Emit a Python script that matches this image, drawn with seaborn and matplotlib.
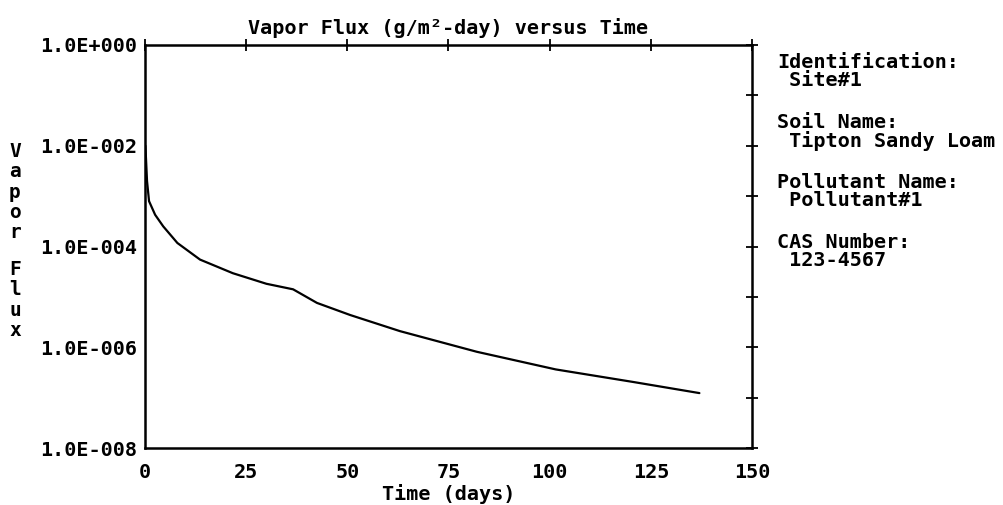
import numpy as np
import pandas as pd
import matplotlib
matplotlib.use("Agg")
import matplotlib.pyplot as plt
import seaborn as sns

# Data
time_days = [0.1, 0.5, 1.0, 2.5, 4.5, 8.0, 13.6, 21.7, 30.0, 36.6, 42.5,
             50.7, 63.0, 82.0, 101.5, 120.7, 137.0]
log_flux = [-2.0, -2.7, -3.1, -3.37, -3.6, -3.93, -4.26, -4.53, -4.74, -4.85,
            -5.12, -5.36, -5.68, -6.09, -6.44, -6.69, -6.91]

x_ticks = [0, 25, 50, 75, 100, 125, 150]
y_decades = [-8, -7, -6, -5, -4, -3, -2, -1, 0]
y_tick_labels = ["1.0E-008", "", "1.0E-006", "", "1.0E-004", "",
                 "1.0E-002", "", "1.0E+000"]

title = "Vapor Flux (g/m²-day) versus Time"
x_label = "Time (days)"
y_label_words = ["Vapor", "Flux"]

info_blocks = [
    ("Identification:", "Site#1"),
    ("Soil Name:", "Tipton Sandy Loam"),
    ("Pollutant Name:", "Pollutant#1"),
    ("CAS Number:", "123-4567"),
]

df = pd.DataFrame({"time": time_days, "flux": [10.0 ** v for v in log_flux]})

sns.set_theme(style="white")
plt.rcParams["font.family"] = ["DejaVu Sans Mono", "DejaVu Sans"]
plt.rcParams["font.weight"] = "bold"
plt.rcParams["text.color"] = "black"

W, H = 1004, 505
fig = plt.figure(figsize=(W / 100, H / 100), dpi=100)
ax = fig.add_axes([145 / W, 1 - 448 / H, (752 - 145) / W, (448 - 45) / H])

sns.lineplot(data=df, x="time", y="flux", ax=ax, color="black", linewidth=1.6)

ax.set_yscale("log")
ax.set_xlim(0, 150)
ax.set_ylim(1e-8, 1e0)
ax.set_xticks(x_ticks)
ax.set_xticklabels([str(t) for t in x_ticks])
ax.set_yticks([10.0 ** d for d in y_decades])
ax.set_yticklabels(y_tick_labels)
ax.yaxis.set_minor_locator(matplotlib.ticker.NullLocator())

for s in ax.spines.values():
    s.set_color("black")
    s.set_linewidth(1.8)

ax.tick_params(axis="both", which="major", direction="inout", length=9,
               width=1.3, color="black", top=True, right=True,
               labelsize=14.5, labelcolor="black")
ax.tick_params(axis="x", pad=6)
ax.tick_params(axis="y", pad=1)

ax.set_xlabel(x_label, fontsize=14.5, fontweight="bold", color="black", labelpad=2)
ax.set_ylabel("")
ax.set_title(title, fontsize=14.5, fontweight="bold", color="black", pad=8)

# stacked vertical y label
fig.text(15 / W, 1 - 192 / H, "\n".join(y_label_words[0]), ha="center", va="center",
         fontsize=14, fontweight="bold", linespacing=1.08, color="black")
fig.text(15 / W, 1 - 300 / H, "\n".join(y_label_words[1]), ha="center", va="center",
         fontsize=14, fontweight="bold", linespacing=1.08, color="black")

# info text on the right
y0 = 63
for i, (head, val) in enumerate(info_blocks):
    yy = y0 + i * 60
    fig.text(777 / W, 1 - yy / H, head, ha="left", va="center",
             fontsize=14.5, fontweight="bold", color="black")
    fig.text(777 / W, 1 - (yy + 18) / H, " " + val, ha="left", va="center",
             fontsize=14.5, fontweight="bold", color="black")

fig.savefig("out.png", dpi=100, facecolor="white")
